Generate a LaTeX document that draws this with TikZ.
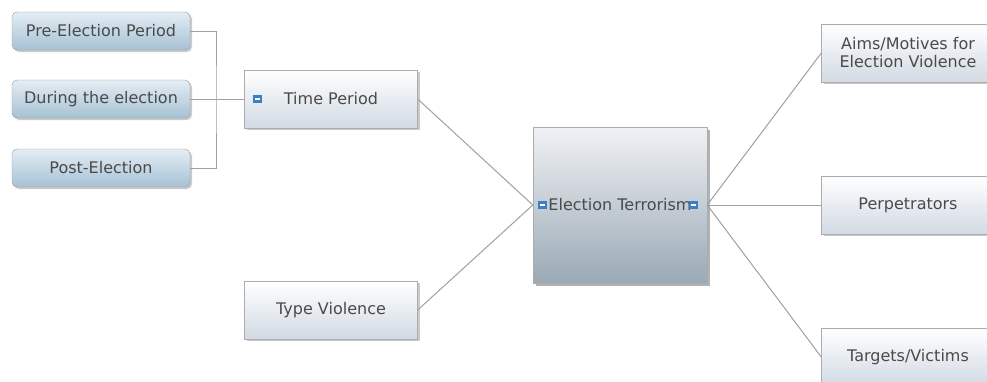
\documentclass[tikz,border=0pt]{standalone}
\usepackage{fontspec}
\setmainfont{DejaVu Sans}
\usepackage{tikz}
\usetikzlibrary{shadows,positioning}
\definecolor{txtgray}{HTML}{4A4A4A}
\definecolor{linegray}{HTML}{A0A0A0}
\definecolor{iconblue}{HTML}{3C7FC4}
\tikzset{
    leaf/.style={
                rounded corners=5pt,
                draw=gray!80,
                top color={rgb,255:red,228;green,237;blue,244},
                bottom color={rgb,255:red,166;green,193;blue,212},
                minimum width=178pt,
                minimum height=38pt,
                drop shadow={shadow xshift=2pt,shadow yshift=-2pt,opacity=0.35,fill=black!60}
            },
        theme/.style={
                draw=gray!65,
                top color=white,
                bottom color={rgb,255:red,210;green,218;blue,228},
                minimum width=173pt,
                minimum height=58pt,
                align=center,
                drop shadow={shadow xshift=2pt,shadow yshift=-2pt,opacity=0.35,fill=black!60}
            },
        topic/.style={
                draw=gray!65,
                top color={rgb,255:red,240;green,242;blue,245},
                bottom color={rgb,255:red,154;green,169;blue,180},
                minimum width=174pt,
                minimum height=156pt,
                drop shadow={shadow xshift=3pt,shadow yshift=-3pt,opacity=0.5,fill=black!60}
            },
        icon/.style={
                fill=iconblue,
                inner sep=0pt,
                minimum width=9pt,
                minimum height=8pt,
                path picture={\draw[white,line width=1.2pt] ([xshift=2pt]path picture bounding box.west) -- ([xshift=-2pt]path picture bounding box.east);}
            },
        link/.style={draw=linegray, line width=1pt},
}
\begin{document}
\begin{tikzpicture}[
    x=1pt, y=-1pt,
    every node/.style={text=txtgray, font=\fontsize{16}{18}\selectfont},
  ]
  \clip (0,0) rectangle (987,381);
  % Topic
  \node[topic] (terror) at (620,205) {Election Terrorism};
  % Themes left
  \node[theme] (time) at (331,99) {Time Period};
  \node[theme] (type) at (331,310) {Type Violence};
  % Periods
  \node[leaf] (pre) at (101,31) {Pre-Election Period};
  \node[leaf] (during) at (101,99) {During the election};
  \node[leaf] (post) at (101,168) {Post-Election};
  % Themes right
  \node[theme] (aims) at (908,53) {Aims/Motives for\\Election Violence};
  \node[theme] (perp) at (908,205) {Perpetrators};
  \node[theme] (targets) at (908,357) {Targets/Victims};
  % Icons
  \node[icon] (icontime) at (257,99) {};
  \node[icon] (iconleft) at (542,205) {};
  \node[icon] (iconright) at (693,205) {};
  % Connectors
  \coordinate (fork) at (216,99);
  \draw[link] (pre.east) -| (fork) |- (post.east);
  \draw[link] (during.east) -- (time.west);
  \draw[link] (time.east) -- (terror.west);
  \draw[link] (type.east) -- (terror.west);
  \draw[link] (terror.east) -- (aims.west);
  \draw[link] (terror.east) -- (perp.west);
  \draw[link] (terror.east) -- (targets.west);
\end{tikzpicture}
\end{document}
